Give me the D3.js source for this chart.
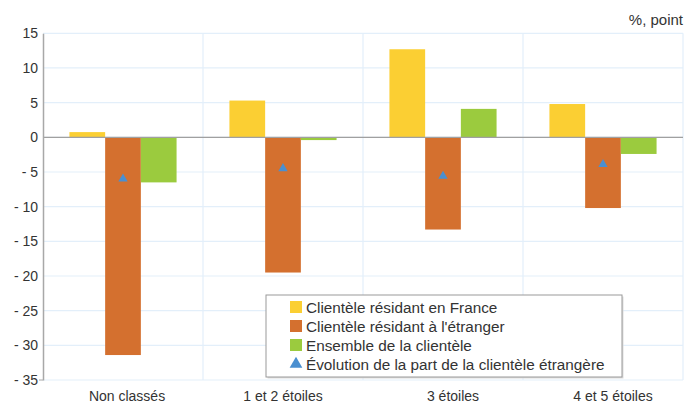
<!DOCTYPE html>
<html><head><meta charset="utf-8">
<script src="https://cdn.jsdelivr.net/npm/d3@7"></script>
<style>body{margin:0;background:#fff}svg{display:block;font-family:"Liberation Sans",Arial,sans-serif}</style>
</head><body><svg id="c" width="686" height="403"></svg>
<script>
const categories = ["Non classés", "1 et 2 étoiles", "3 étoiles", "4 et 5 étoiles"];
const seriesNames = ["Clientèle résidant en France", "Clientèle résidant à l'étranger", "Ensemble de la clientèle"];
const franceValues = [0.75, 5.3, 12.7, 4.8];
const etrangerValues = [-31.4, -19.5, -13.3, -10.2];
const ensembleValues = [-6.5, -0.4, 4.1, -2.4];
const partEtrangere = [-6.0, -4.5, -5.6, -3.9];
const triangleName = "Évolution de la part de la clientèle étrangère";
const yTicks = [15, 10, 5, 0, -5, -10, -15, -20, -25, -30, -35];
const unitLabel = "%, point";

const colors = ["#FBCF33", "#D4702F", "#9BCB3E"];
const triColor = "#4A8FD0";
const FONT = "Liberation Sans, Arial, sans-serif";
const labelShift = [4, 0, 10, 10];
const svg = d3.select("#c");
const m = {l: 43, r: 683, t: 33.3, b: 380};
const x = d3.scaleBand().domain(categories).range([m.l, m.r]).paddingInner(0).paddingOuter(0);
const y = d3.scaleLinear().domain([-35, 15]).range([m.b, m.t]);
const inner = d3.scaleBand().domain([0,1,2]).range([0, x.bandwidth()]).paddingOuter(0.74).paddingInner(0);

// grid
const g = svg.append("g");
g.selectAll("line.h").data(yTicks).join("line")
  .attr("x1", m.l).attr("x2", m.r).attr("y1", d => y(d)).attr("y2", d => y(d))
  .attr("stroke", "#e3effa").attr("stroke-width", 1.2);
g.selectAll("line.v").data(categories.slice(1).concat(["end"])).join("line")
  .attr("x1", (d,i) => i < 3 ? x(d) : m.r).attr("x2", (d,i) => i < 3 ? x(d) : m.r)
  .attr("y1", m.t).attr("y2", m.b).attr("stroke", "#e3effa").attr("stroke-width", 1.2);

// bars
const data = [franceValues, etrangerValues, ensembleValues];
data.forEach((vals, s) => {
  svg.append("g").selectAll("rect").data(vals).join("rect")
    .attr("x", (d,i) => x(categories[i]) + inner(s))
    .attr("width", inner.bandwidth())
    .attr("y", d => y(Math.max(0, d)))
    .attr("height", d => Math.abs(y(d) - y(0)))
    .attr("fill", colors[s]);
});

// zero line
svg.append("line").attr("x1", m.l).attr("x2", m.r).attr("y1", y(0)).attr("y2", y(0))
  .attr("stroke", "#a0a0a0").attr("stroke-width", 1.2);

// triangles
const tri = d3.symbol().type(d3.symbolTriangle).size(38);
svg.append("g").selectAll("path").data(partEtrangere).join("path")
  .attr("d", tri)
  .attr("transform", (d,i) => `translate(${x(categories[i]) + inner(1) + inner.bandwidth()/2},${y(d)})`)
  .attr("fill", triColor);

// y axis
const yAxis = d3.axisLeft(y).tickValues(yTicks).tickSize(0).tickPadding(5)
  .tickFormat(d => d < 0 ? "- " + Math.abs(d) : String(d));
const ya = svg.append("g").attr("transform", `translate(${m.l},0)`).call(yAxis);
ya.select(".domain").attr("stroke", "#a8a8a8").attr("stroke-width", 1.5);
ya.selectAll("text").attr("fill", "#333").attr("font-size", 14).attr("font-family", FONT);
svg.append("line").attr("x1", m.l - 4).attr("x2", m.l).attr("y1", m.b).attr("y2", m.b).attr("stroke", "#a8a8a8");

// x axis
const xAxis = d3.axisBottom(x).tickSize(0).tickPadding(11);
const xa = svg.append("g").attr("transform", `translate(0,${m.b})`).call(xAxis);
xa.select(".domain").remove();
xa.selectAll("text").attr("fill", "#333").attr("font-size", 14).attr("font-family", FONT)
  .attr("dx", (d,i) => labelShift[i]);

// unit label
svg.append("text").attr("x", 683).attr("y", 25).attr("text-anchor", "end")
  .attr("font-size", 15).attr("fill", "#333").text(unitLabel);

// legend
const lg = svg.append("g").attr("transform", "translate(266,295)");
lg.append("rect").attr("x", 1.5).attr("y", 1.5).attr("width", 356).attr("height", 82).attr("fill", "#ddd");
lg.append("rect").attr("x", 0).attr("y", 0).attr("width", 356).attr("height", 82)
  .attr("fill", "#fff").attr("stroke", "#9a9a9a").attr("stroke-width", 1);
const items = seriesNames.map((n,i) => ({name: n, color: colors[i], tri: false}))
  .concat([{name: triangleName, color: triColor, tri: true}]);
const rows = lg.selectAll("g.item").data(items).join("g")
  .attr("transform", (d,i) => `translate(24,${12 + i*19})`);
rows.each(function(d){
  const r = d3.select(this);
  if (d.tri) r.append("path").attr("d", d3.symbol().type(d3.symbolTriangle).size(70)).attr("transform", "translate(6,0)").attr("fill", d.color);
  else r.append("rect").attr("x", 0).attr("y", -6).attr("width", 12).attr("height", 12).attr("fill", d.color);
  r.append("text").attr("x", 16).attr("y", 5.5).attr("font-size", 15.3).attr("fill", "#333").text(d.name);
});
</script></body></html>
